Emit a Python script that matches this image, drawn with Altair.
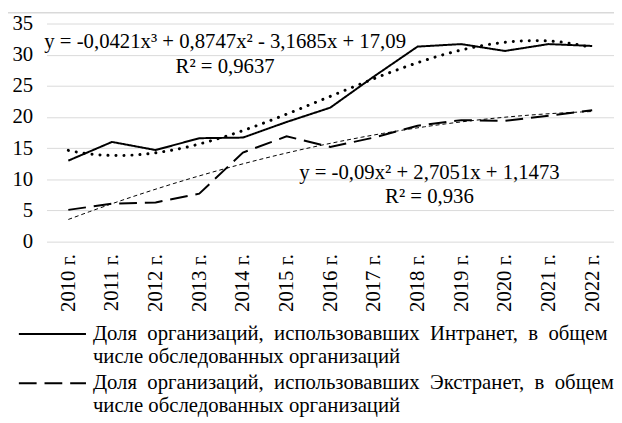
import altair as alt
import pandas as pd

years = list(range(2010, 2023))
intranet = [13.0, 16.0, 14.7, 16.6, 16.7, 19.2, 21.5, 26.5, 31.3, 31.7, 30.6, 31.7, 31.4]
extranet = [5.1, 6.1, 6.3, 7.7, 14.3, 16.9, 15.2, 16.7, 18.6, 19.5, 19.4, 20.2, 21.1]
series_names = [
    "Доля организаций, использовавших Интранет, в общем|числе обследованных организаций",
    "Доля организаций, использовавших Экстранет, в общем|числе обследованных организаций",
]
y_ticks = [0, 5, 10, 15, 20, 25, 30, 35]
eq1_lines = ["y = -0,0421x³ + 0,8747x² - 3,1685x + 17,09", "R² = 0,9637"]
eq2_lines = ["y = -0,09x² + 2,7051x + 1,1473", "R² = 0,936"]

FONT = "Liberation Serif"
FS = 21

df = pd.DataFrame({
    "year": years * 2,
    "value": intranet + extranet,
    "series": [series_names[0]] * len(years) + [series_names[1]] * len(years),
})

x_enc = alt.X(
    "year:Q",
    scale=alt.Scale(domain=[2009.5, 2022.5], nice=False, zero=False),
    axis=alt.Axis(values=years, tickCount=13, labelExpr="datum.value + ' г.'", labelAngle=270,
                  grid=False, ticks=False, tickSize=0, domain=False, labelPadding=12,
                  labelFlush=False, labelOverlap=False, title=None,
                  labelFont=FONT, labelFontSize=FS, labelColor="black"),
)
y_enc = alt.Y(
    "value:Q",
    scale=alt.Scale(domain=[0, 35], nice=False, zero=True),
    axis=alt.Axis(values=y_ticks, tickCount=8, grid=True, gridColor="#d9d9d9", gridWidth=1,
                  ticks=False, tickSize=0, domain=False, labelPadding=14, title=None,
                  labelOverlap=False, labelFlush=False,
                  labelFont=FONT, labelFontSize=FS, labelColor="black"),
)

# first label line is justified in the reference: widen its word gaps a little
label_expr = (
    "[replace(split(datum.label, '|')[0], / /g, ' \u2005'), split(datum.label, '|')[1]]"
)

lines = alt.Chart(df).mark_line(color="black", strokeWidth=2).encode(
    x=x_enc,
    y=y_enc,
    strokeDash=alt.StrokeDash(
        "series:N",
        scale=alt.Scale(domain=series_names, range=[[1, 0], [18, 8]]),
        legend=alt.Legend(
            orient="none", legendX=-4.5, legendY=304, title=None, direction="vertical",
            symbolType="M-4,0H4", symbolSize=289, symbolStrokeWidth=2,
            symbolStrokeColor="black", symbolFillColor="transparent",
            labelFont=FONT, labelFontSize=FS,
            labelColor="black", labelLimit=800, labelOffset=30.5, rowPadding=5,
            labelExpr=label_expr,
        ),
    ),
)

trend1 = alt.Chart(df).transform_filter(
    alt.datum.series == series_names[0]
).transform_regression(
    "year", "value", method="poly", order=3
).mark_line(color="black", strokeWidth=3, strokeDash=[0.1, 8], strokeCap="round").encode(
    x="year:Q", y="value:Q"
)

trend2 = alt.Chart(df).transform_filter(
    alt.datum.series == series_names[1]
).transform_regression(
    "year", "value", method="poly", order=2
).mark_line(color="black", strokeWidth=1, strokeDash=[4, 3]).encode(
    x="year:Q", y="value:Q"
)

one = pd.DataFrame({"k": [0]})
eq1 = alt.Chart(one).mark_text(
    text=eq1_lines, font=FONT, fontSize=FS, align="center", baseline="alphabetic",
    lineHeight=25, color="black"
).encode(x=alt.value(181), y=alt.value(25))
eq2 = alt.Chart(one).mark_text(
    text=eq2_lines, font=FONT, fontSize=FS, align="center", baseline="alphabetic",
    lineHeight=24, color="black"
).encode(x=alt.value(388), y=alt.value(158))

# outer chart frame (top edge visible in the reference)
frame = alt.Chart(one).mark_rule(color="#d9d9d9", strokeWidth=1.5).encode(
    x=alt.value(-39), x2=alt.value(575), y=alt.value(-11)
)

chart = alt.layer(frame, lines, trend1, trend2, eq1, eq2).properties(
    width=575, height=221,
    autosize=alt.AutoSizeParams(type="none"),
    padding={"left": 39, "top": 13, "right": 0, "bottom": 181},
).configure_view(stroke=None)

chart.save("out.html", embed_options={"renderer": "svg", "actions": False})
